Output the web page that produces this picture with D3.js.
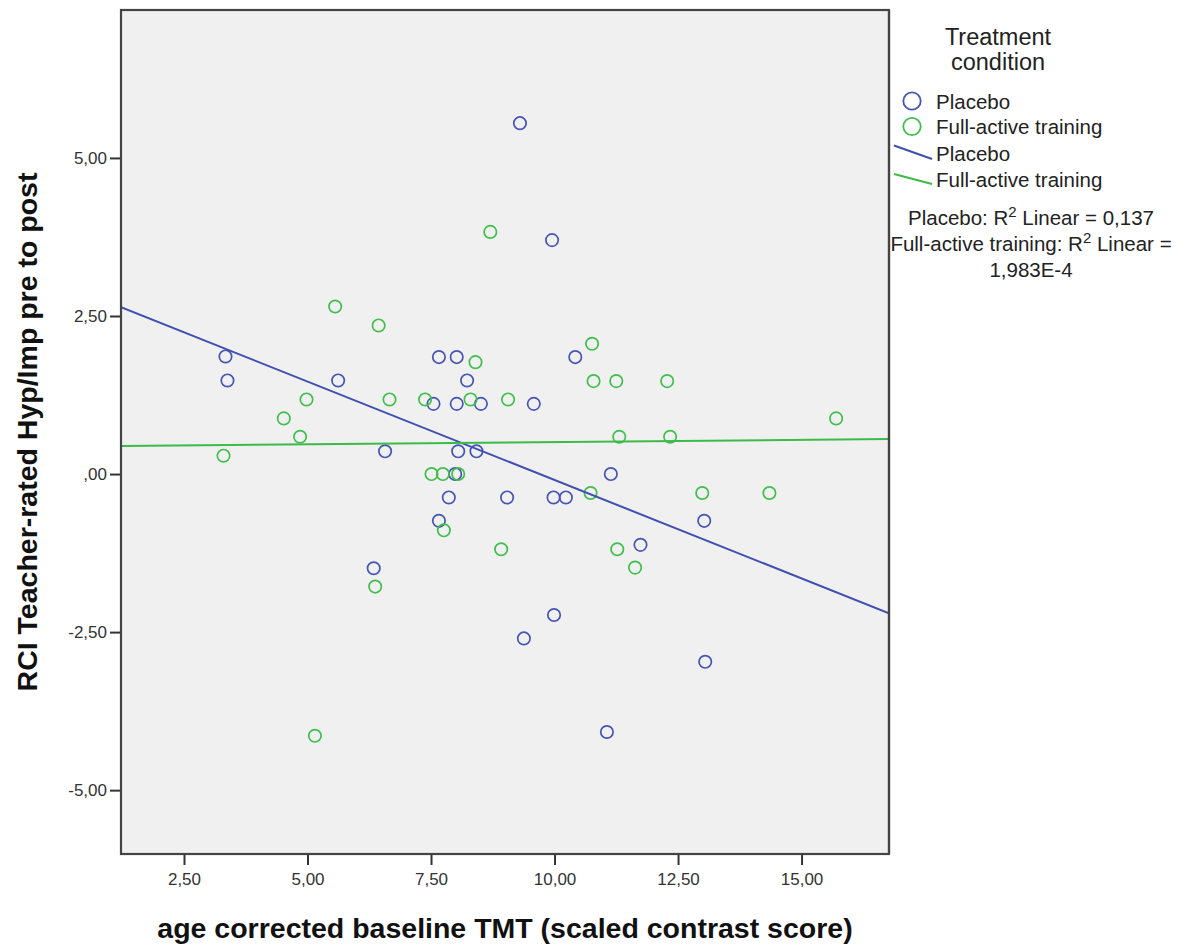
<!DOCTYPE html>
<html>
<head>
<meta charset="utf-8">
<script src="https://cdn.jsdelivr.net/npm/d3@7"></script>
<style>
  html, body { margin: 0; padding: 0; background: #ffffff; }
  svg { display: block; font-family: "Liberation Sans", Arial, sans-serif; }
</style>
</head>
<body>
<svg id="chart" width="1185" height="947"></svg>
<script>
// ---- Data ----
const seriesNames = ["Placebo", "Full-active training"];

const placeboX = [3.34, 3.38, 5.62, 7.66, 8.02, 8.23, 7.55, 8.02, 8.51, 6.57, 8.05, 8.42, 7.99, 9.30, 9.95,
                  10.42, 9.58, 11.14, 7.86, 9.04, 7.66, 6.34, 9.98, 10.23, 13.03, 11.74, 9.99, 9.38, 13.05, 11.06];
const placeboY = [1.86, 1.48, 1.48, 1.85, 1.85, 1.48, 1.11, 1.11, 1.11, 0.36, 0.36, 0.36, 0.00, 5.55, 3.70,
                  1.85, 1.11, 0.00, -0.37, -0.37, -0.74, -1.49, -0.37, -0.37, -0.74, -1.12, -2.23, -2.60, -2.97, -4.08];

const activeX = [8.70, 5.56, 6.44, 8.40, 4.98, 6.66, 7.38, 8.30, 9.06, 4.52, 4.85, 3.30, 7.51, 7.74, 8.05, 10.76,
                 10.79, 11.25, 12.28, 15.70, 11.31, 12.34, 7.76, 8.92, 6.37, 5.15, 10.73, 12.99, 14.35, 11.27, 11.63];
const activeY = [3.83, 2.65, 2.35, 1.77, 1.18, 1.18, 1.18, 1.18, 1.18, 0.88, 0.59, 0.29, 0.00, 0.00, 0.00, 2.06,
                 1.47, 1.47, 1.47, 0.88, 0.59, 0.59, -0.89, -1.19, -1.78, -4.14, -0.30, -0.30, -0.30, -1.19, -1.48];

// Linear fit lines (intercept, slope) per series
const fitIntercept = [3.02, 0.434];
const fitSlope = [-0.3114, 0.00714];

const rsqLabels = ["Placebo: R", "Full-active training: R"];
const rsqValues = ["0,137", "1,983E-4"];

const xTicks = [2.5, 5, 7.5, 10, 12.5, 15];
const yTicks = [-5, -2.5, 0, 2.5, 5];
const xDomain = [1.225, 16.77];
const yDomain = [-6.01, 7.34];

const xTitle = "age corrected baseline TMT (scaled contrast score)";
const yTitle = "RCI Teacher-rated Hyp/Imp pre to post";
const legendTitle = ["Treatment", "condition"];

// ---- Layout ----
const plot = { left: 121, right: 889, top: 10, bottom: 854 };
const colors = ["#4654b4", "#3fbf4c"];
const lineColors = ["#3f4fb0", "#3cbb48"];

const svg = d3.select("#chart");
const x = d3.scaleLinear().domain(xDomain).range([plot.left, plot.right]);
const y = d3.scaleLinear().domain(yDomain).range([plot.bottom, plot.top]);

function fmt(v) {
  let s = Math.abs(v).toFixed(2).replace(".", ",");
  if (Math.abs(v) < 1) s = s.replace(/^0/, "");
  return (v < 0 ? "-" : "") + s;
}

// plot background
svg.append("rect")
  .attr("x", plot.left).attr("y", plot.top)
  .attr("width", plot.right - plot.left).attr("height", plot.bottom - plot.top)
  .attr("fill", "#f0f0f0");

svg.append("clipPath").attr("id", "clip")
  .append("rect")
  .attr("x", plot.left).attr("y", plot.top)
  .attr("width", plot.right - plot.left).attr("height", plot.bottom - plot.top);

// axes
const xAxis = d3.axisBottom(x).tickValues(xTicks).tickFormat(fmt).tickSize(11).tickPadding(8);
const yAxis = d3.axisLeft(y).tickValues(yTicks).tickFormat(fmt).tickSize(11).tickPadding(3);

const gx = svg.append("g").attr("transform", `translate(0,${plot.bottom})`).call(xAxis);
const gy = svg.append("g").attr("transform", `translate(${plot.left},0)`).call(yAxis);
[gx, gy].forEach(g => {
  g.select(".domain").remove();
  g.selectAll(".tick line").attr("stroke", "#333").attr("stroke-width", 2);
  g.selectAll(".tick text").attr("fill", "#333").style("font-size", "17px")
    .style("font-family", "'Liberation Sans', Arial, sans-serif");
});

// points
const gPts = svg.append("g").attr("clip-path", "url(#clip)");
const sets = [
  { xs: placeboX, ys: placeboY, c: colors[0] },
  { xs: activeX, ys: activeY, c: colors[1] }
];
sets.forEach(s => {
  gPts.selectAll(null).data(s.xs.map((v, i) => [v, s.ys[i]]))
    .enter().append("circle")
    .attr("cx", d => x(d[0])).attr("cy", d => y(d[1]))
    .attr("r", 6.2)
    .attr("fill", "none")
    .attr("stroke", s.c)
    .attr("stroke-width", 1.7);
});

// fit lines
const line = d3.line().x(d => x(d[0])).y(d => y(d[1]));
seriesNames.forEach((n, i) => {
  const pts = xDomain.map(xv => [xv, fitIntercept[i] + fitSlope[i] * xv]);
  gPts.append("path").attr("d", line(pts))
    .attr("fill", "none").attr("stroke", lineColors[i]).attr("stroke-width", 2);
});

// frame
svg.append("rect")
  .attr("x", plot.left).attr("y", plot.top)
  .attr("width", plot.right - plot.left).attr("height", plot.bottom - plot.top)
  .attr("fill", "none").attr("stroke", "#444").attr("stroke-width", 2.2);

// axis titles
svg.append("text")
  .attr("x", (plot.left + plot.right) / 2).attr("y", 938)
  .attr("text-anchor", "middle")
  .style("font-size", "28.5px").style("font-weight", "bold").attr("fill", "#111")
  .text(xTitle);

svg.append("text")
  .attr("transform", `translate(37,${(plot.top + plot.bottom) / 2}) rotate(-90)`)
  .attr("text-anchor", "middle")
  .style("font-size", "28.5px").style("font-weight", "bold").attr("fill", "#111")
  .text(yTitle);

// legend
const lg = svg.append("g");
legendTitle.forEach((t, i) => {
  lg.append("text").attr("x", 998).attr("y", 45 + i * 25)
    .attr("text-anchor", "middle").style("font-size", "23.5px").attr("fill", "#222").text(t);
});
seriesNames.forEach((n, i) => {
  const cy = 101 + i * 25.5;
  lg.append("circle").attr("cx", 912).attr("cy", cy).attr("r", 8.7)
    .attr("fill", "none").attr("stroke", colors[i]).attr("stroke-width", 1.8);
  lg.append("text").attr("x", 936).attr("y", cy + 7.5)
    .style("font-size", "20.5px").attr("fill", "#222").text(n);
});
const lineLeg = [[[894, 145.5], [932, 159]], [[894, 174], [932, 184]]];
seriesNames.forEach((n, i) => {
  lg.append("line")
    .attr("x1", lineLeg[i][0][0]).attr("y1", lineLeg[i][0][1])
    .attr("x2", lineLeg[i][1][0]).attr("y2", lineLeg[i][1][1])
    .attr("stroke", lineColors[i]).attr("stroke-width", 2);
  lg.append("text").attr("x", 936).attr("y", 161 + i * 26)
    .style("font-size", "20.5px").attr("fill", "#222").text(n);
});

// R-square annotations
function rsqLine(yPos, label, tail) {
  const t = lg.append("text").attr("x", 1031).attr("y", yPos)
    .attr("text-anchor", "middle").style("font-size", "20.5px").attr("fill", "#222");
  t.append("tspan").text(label);
  t.append("tspan").attr("dy", -8).style("font-size", "15px").text("2");
  t.append("tspan").attr("dy", 8).text(tail);
}
rsqLine(225, rsqLabels[0], " Linear = " + rsqValues[0]);
rsqLine(251, rsqLabels[1], " Linear =");
lg.append("text").attr("x", 1031).attr("y", 277)
  .attr("text-anchor", "middle").style("font-size", "20.5px").attr("fill", "#222").text(rsqValues[1]);

// redraw frame's right edge over legend text overlap
svg.append("line")
  .attr("x1", plot.right).attr("x2", plot.right).attr("y1", plot.top).attr("y2", plot.bottom)
  .attr("stroke", "#444").attr("stroke-width", 2.2);
</script>
</body>
</html>
